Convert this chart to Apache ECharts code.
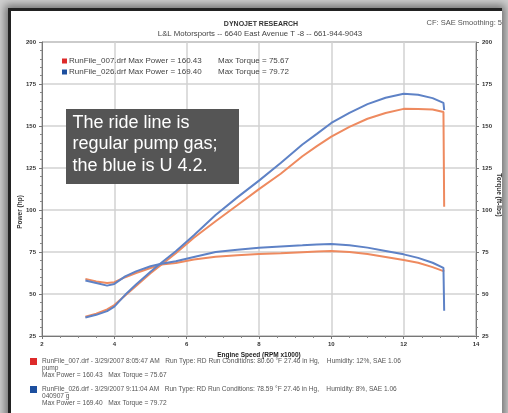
<!DOCTYPE html>
<html>
<head>
<meta charset="utf-8">
<script src="https://cdn.jsdelivr.net/npm/echarts@6/dist/echarts.min.js"></script>
<style>
  html, body { margin: 0; padding: 0; background: #cfcfcf; width: 508px; height: 413px; overflow: hidden; }
  #card { position: absolute; left: 8px; top: 8px; width: 494px; height: 430px; background: #fff;
          border-left: 3px solid #222; border-top: 3px solid #222; box-sizing: border-box;
          box-shadow: 0 0 8px 3px rgba(0,0,0,0.45); }
  #chart { position: absolute; left: 0; top: 0; width: 508px; height: 413px; }
</style>
</head>
<body>
<div id="card"></div>
<div id="chart"></div>
<script>
const rpm        = [3.2, 3.5, 3.8, 4.0, 4.3, 4.6, 5.0, 5.3, 5.7, 6.2, 6.8, 7.4, 8.0, 8.6, 9.2, 9.6, 10.0, 10.5, 11.0, 11.5, 12.0, 12.4, 12.8, 13.1, 13.12];
const powerRed   = [36.5, 38.3, 40.8, 43.4, 49.1, 54.7, 62.3, 67.4, 74.3, 83.5, 93.3, 102.8, 112.4, 121.6, 132.0, 138.0, 143.7, 149.5, 154.3, 157.7, 160.2, 160.1, 159.8, 158.3, 102.0];
const powerBlue  = [36.0, 37.6, 39.8, 42.5, 49.5, 55.6, 63.3, 68.6, 75.4, 85.0, 97.0, 107.5, 117.5, 128.0, 139.0, 145.3, 151.8, 157.8, 163.0, 166.8, 169.2, 168.6, 166.6, 163.8, 159.5];
const torqueRed  = [59.0, 57.5, 56.5, 57.0, 60.0, 62.5, 65.5, 67.5, 68.5, 70.5, 72.2, 73.0, 73.8, 74.3, 74.9, 75.3, 75.6, 75.0, 73.8, 72.0, 70.2, 68.6, 66.0, 63.6, 63.3];
const torqueBlue = [58.0, 56.5, 55.0, 56.0, 60.5, 63.5, 66.5, 68.0, 69.5, 72.0, 75.0, 76.3, 77.5, 78.3, 79.0, 79.5, 79.7, 79.0, 77.6, 75.6, 73.6, 71.5, 68.6, 65.6, 40.0];

const runRed  = 'RunFile_007.drf';
const runBlue = 'RunFile_026.drf';
const legendRed  = ['RunFile_007.drf Max Power = 160.43', 'Max Torque = 75.67'];
const legendBlue = ['RunFile_026.drf Max Power = 169.40', 'Max Torque = 79.72'];
const footRed  = ['RunFile_007.drf - 3/29/2007 8:05:47 AM   Run Type: RD Run Conditions: 80.60 °F 27.46 in Hg,    Humidity: 12%, SAE 1.06', 'pump', 'Max Power = 160.43   Max Torque = 75.67'];
const footBlue = ['RunFile_026.drf - 3/29/2007 9:11:04 AM   Run Type: RD Run Conditions: 78.59 °F 27.46 in Hg,    Humidity: 8%, SAE 1.06', '040907 g', 'Max Power = 169.40   Max Torque = 79.72'];
const note = ['The ride line is', 'regular pump gas;', 'the blue is U 4.2.'];

const lineRed = '#ee8a5f', lineBlue = '#5e82c6';
const sqRed = '#dd2a2a', sqBlue = '#1d4f9f';
const font = '"Liberation Sans", Arial, sans-serif';

const chart = echarts.init(document.getElementById('chart'), null, { renderer: 'canvas' });

const axisCommonY = {
  type: 'value', min: 25, max: 200, interval: 25,
  axisLine: { show: true, lineStyle: { color: '#777', width: 1 } },
  axisTick: { show: true, length: 3, lineStyle: { color: '#777' } },
  minorTick: { show: true, splitNumber: 5, length: 2, lineStyle: { color: '#888' } },
  axisLabel: { fontSize: 6, fontWeight: 'bold', color: '#333', margin: 6, fontFamily: font }
};

const graphics = [];
// annotation box
graphics.push({ type: 'rect', left: 66, top: 109, shape: { width: 173, height: 75 }, style: { fill: '#555555' }, z: 50 });
note.forEach((t, i) => {
  graphics.push({ type: 'text', x: 72.5, y: 123.2 + i * 21.3, z: 51,
    style: { text: t, fill: '#ffffff', font: '18px ' + font, verticalAlign: 'middle', align: 'left' } });
});
// title texts
graphics.push({ type: 'text', x: 261, y: 24, style: { text: 'DYNOJET RESEARCH', fill: '#333', font: 'bold 7px ' + font, align: 'center', verticalAlign: 'middle' } });
graphics.push({ type: 'text', x: 260, y: 33.5, style: { text: 'L&L Motorsports -- 6640 East Avenue T -8 -- 661-944-9043', fill: '#444', font: '7.8px ' + font, align: 'center', verticalAlign: 'middle' } });
graphics.push({ type: 'text', x: 502, y: 23, style: { text: 'CF: SAE Smoothing: 5', fill: '#555', font: '7.5px ' + font, align: 'right', verticalAlign: 'middle' } });
// axis names
graphics.push({ type: 'text', x: 20, y: 212, rotation: Math.PI / 2, style: { text: 'Power (hp)', fill: '#333', font: 'bold 6.5px ' + font, align: 'center', verticalAlign: 'middle' } });
graphics.push({ type: 'text', x: 499, y: 195, rotation: -Math.PI / 2, style: { text: 'Torque (ft-lbs)', fill: '#333', font: 'bold 6.5px ' + font, align: 'center', verticalAlign: 'middle' } });
// footer legend
[[footRed, sqRed, 358], [footBlue, sqBlue, 386]].forEach(([lines, c, y0]) => {
  graphics.push({ type: 'rect', left: 30, top: y0, shape: { width: 7, height: 7 }, style: { fill: c } });
  lines.forEach((t, i) => {
    graphics.push({ type: 'text', x: 42, y: y0 + 3 + i * 7.3, style: { text: t, fill: '#555', font: '6.6px ' + font, align: 'left', verticalAlign: 'middle' } });
  });
});

chart.setOption({
  backgroundColor: 'transparent',
  animation: false,
  textStyle: { fontFamily: font },
  grid: { left: 42, right: 32, top: 42, bottom: 77, outerBoundsMode: 'none', containLabel: false, show: true, borderColor: '#777', borderWidth: 1, backgroundColor: 'transparent' },
  legend: {
    orient: 'vertical', left: 62, top: 57, padding: 0, itemWidth: 5, itemHeight: 5, itemGap: 3, icon: 'rect',
    selectedMode: false,
    data: [
      { name: runRed, itemStyle: { color: sqRed } },
      { name: runBlue, itemStyle: { color: sqBlue } }
    ],
    formatter: function (n) {
      const l = n === runRed ? legendRed : legendBlue;
      return '{a|' + l[0] + '}{b|' + l[1] + '}';
    },
    textStyle: {
      fontSize: 8, color: '#444', padding: [0, 0, 0, -3],
      rich: { a: { width: 149, fontSize: 8, color: '#444' }, b: { fontSize: 8, color: '#444' } }
    }
  },
  xAxis: {
    type: 'value', min: 2, max: 14, interval: 2,
    name: 'Engine Speed (RPM x1000)', nameLocation: 'middle', nameGap: 13,
    nameTextStyle: { fontSize: 6.5, fontWeight: 'bold', color: '#222', fontFamily: font },
    axisLine: { show: true, lineStyle: { color: '#777' } },
    axisTick: { show: true, length: 3, lineStyle: { color: '#777' } },
    minorTick: { show: true, splitNumber: 4, length: 2, lineStyle: { color: '#888' } },
    axisLabel: { fontSize: 6, fontWeight: 'bold', color: '#333', margin: 5, fontFamily: font },
    splitLine: { show: true, lineStyle: { color: '#d2d2d2', width: 1.5 } }
  },
  yAxis: [
    Object.assign({}, axisCommonY, {
      position: 'left',
      splitLine: { show: true, lineStyle: { color: '#d2d2d2', width: 1.5 } }
    }),
    Object.assign({}, axisCommonY, {
      position: 'right',
      splitLine: { show: false }
    })
  ],
  graphic: graphics,
  series: [
    { name: runRed, type: 'line', yAxisIndex: 0, symbol: 'none', data: rpm.map((r, i) => [r, powerRed[i]]), lineStyle: { color: lineRed, width: 2 }, itemStyle: { color: lineRed }, z: 3 },
    { name: runBlue, type: 'line', yAxisIndex: 0, symbol: 'none', data: rpm.map((r, i) => [r, powerBlue[i]]), lineStyle: { color: lineBlue, width: 2 }, itemStyle: { color: lineBlue }, z: 4 },
    { name: runRed, type: 'line', yAxisIndex: 1, symbol: 'none', data: rpm.map((r, i) => [r, torqueRed[i]]), lineStyle: { color: lineRed, width: 2 }, itemStyle: { color: lineRed }, z: 3 },
    { name: runBlue, type: 'line', yAxisIndex: 1, symbol: 'none', data: rpm.map((r, i) => [r, torqueBlue[i]]), lineStyle: { color: lineBlue, width: 2 }, itemStyle: { color: lineBlue }, z: 4 }
  ]
});
</script>
</body>
</html>
